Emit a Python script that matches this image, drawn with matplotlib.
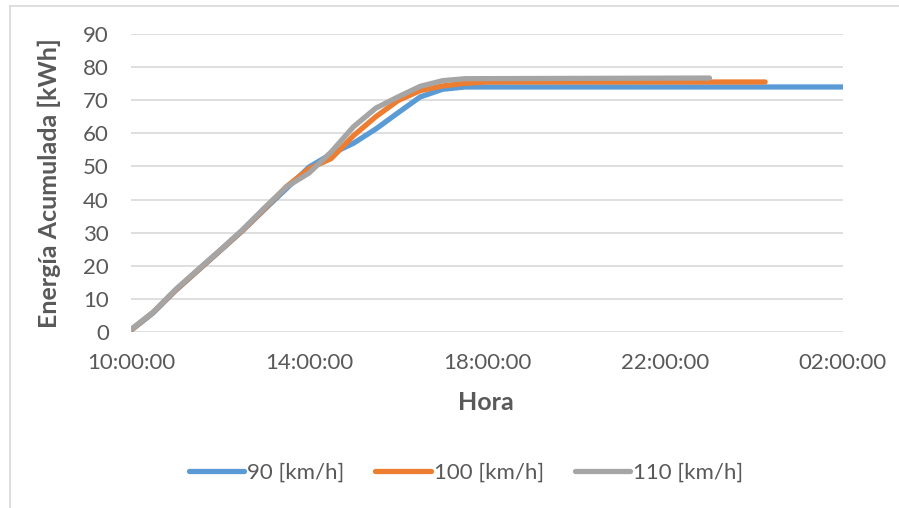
import matplotlib
matplotlib.use("Agg")
import matplotlib.pyplot as plt
from matplotlib.lines import Line2D

# Hours of day (02:00 of the next day = 26)
t_90 = [10, 10.5, 11, 11.5, 12, 12.5, 13, 13.5, 14, 14.5, 15, 15.5, 16, 16.5, 17, 17.5, 26]
e_90 = [0.5, 5.8, 12.5, 18.5, 24.5, 30.5, 37.0, 43.4, 49.8, 53.8, 57.0, 61.3, 66.2, 71.0, 73.3, 74.0, 74.0]

t_100 = [10, 10.5, 11, 11.5, 12, 12.5, 13, 13.5, 14, 14.5, 15, 15.5, 16, 16.5, 17, 17.5, 18, 24.25]
e_100 = [0.6, 6.0, 12.6, 18.6, 24.6, 30.6, 37.2, 44.0, 49.3, 52.4, 59.3, 65.0, 69.9, 72.9, 74.3, 75.1, 75.5, 75.5]

t_110 = [10, 10.5, 11, 11.5, 12, 12.5, 13, 13.5, 14, 14.5, 15, 15.5, 16, 16.5, 17, 17.5, 23.0]
e_110 = [0.8, 6.0, 12.8, 18.8, 24.7, 30.8, 37.5, 43.9, 48.0, 54.4, 62.0, 67.6, 71.0, 74.2, 75.9, 76.5, 76.7]

series_labels = ["90 [km/h]", "100 [km/h]", "110 [km/h]"]
series_colors = ["#5B9BD5", "#ED7D31", "#A5A5A5"]

x_ticks = [10, 14, 18, 22, 26]
x_tick_labels = ["10:00:00", "14:00:00", "18:00:00", "22:00:00", "02:00:00"]
y_ticks = [0, 10, 20, 30, 40, 50, 60, 70, 80, 90]

plt.rcParams["font.family"] = ["Lato", "DejaVu Sans"]
text_color = "#595959"
grid_color = "#D9D9D9"

fig = plt.figure(figsize=(8.99, 5.08), dpi=100)
ax = fig.add_axes([131 / 899, 1 - 332 / 508, (843 - 131) / 899, (332 - 34) / 508])

for t, e, lab, col in zip([t_90, t_100, t_110], [e_90, e_100, e_110], series_labels, series_colors):
    ax.plot(t, e, color=col, lw=3.8, label=lab, solid_capstyle="round",
            solid_joinstyle="round", zorder=3)

ax.set_xlim(10, 26)
ax.set_ylim(0, 90)
ax.set_xticks(x_ticks)
ax.set_xticklabels(x_tick_labels)
ax.set_yticks(y_ticks)
ax.tick_params(axis="both", length=0, labelsize=16, colors=text_color)
ax.tick_params(axis="y", pad=16)
ax.tick_params(axis="x", pad=15)

for s in ax.spines.values():
    s.set_visible(False)
ax.grid(axis="y", color=grid_color, lw=1.2, zorder=0)
ax.set_axisbelow(True)

ax.set_ylabel("Energía Acumulada [kWh]", fontsize=18, fontweight="bold", color=text_color)
ax.yaxis.set_label_coords(-0.098, 0.5)
fig.text(486 / 899, 1 - 403 / 508, "Hora", fontsize=18, fontweight="bold",
         color=text_color, ha="center", va="center")

leg = fig.legend(loc="center", bbox_to_anchor=(466 / 899, 1 - 473 / 508), ncol=3,
                 frameon=False, fontsize=16, handlelength=2.5, handletextpad=0.12,
                 columnspacing=1.4)
for txt in leg.get_texts():
    txt.set_color(text_color)

# Chart area border (top and left edges visible)
fig.add_artist(Line2D([9.5 / 899, 1], [1 - 5.5 / 508, 1 - 5.5 / 508],
                      transform=fig.transFigure, color=grid_color, lw=1.2))
fig.add_artist(Line2D([9.5 / 899, 9.5 / 899], [0, 1 - 5.5 / 508],
                      transform=fig.transFigure, color=grid_color, lw=1.2))

fig.savefig("out.png", dpi=100, facecolor="white")
